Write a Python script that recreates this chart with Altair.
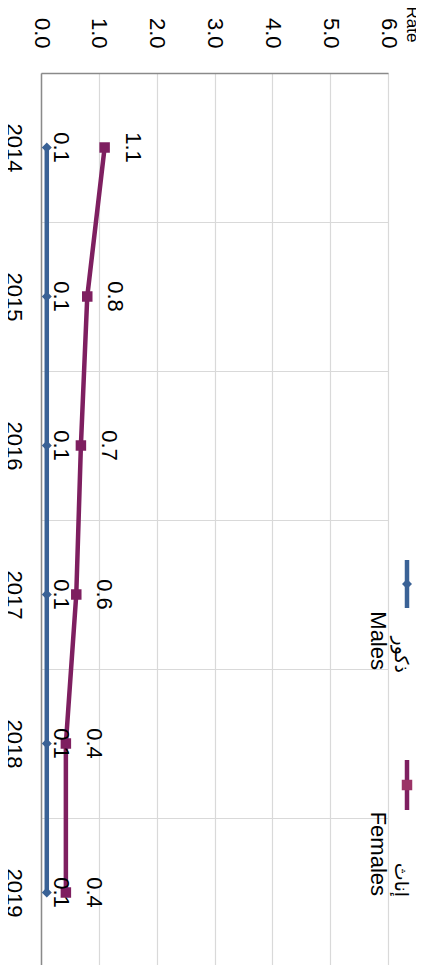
import altair as alt
import pandas as pd

years = ["2014", "2015", "2016", "2017", "2018", "2019"]
males = [0.1, 0.1, 0.1, 0.1, 0.1, 0.1]
females = [1.1, 0.8, 0.69, 0.61, 0.43, 0.43]
series_en = ["Males", "Females"]
series_ar = ["ذكور", "إناث"]
line_colors = ["#3A6296", "#7E1F60"]
marker_colors = ["#3A6296", "#9B3366"]
x_ticks = [0, 1, 2, 3, 4, 5, 6]

rows = []
for i, y in enumerate(years):
    rows.append({"year": y, "rate": males[i], "series": series_en[0]})
    rows.append({"year": y, "rate": females[i], "series": series_en[1]})
df = pd.DataFrame(rows)
leg = pd.DataFrame({"en": series_en, "ar": series_ar})

FONT = "Liberation Sans"
FS = 22
W, H = 347, 894

X = alt.X(
    "rate:Q",
    scale=alt.Scale(domain=[0, 6], nice=False, zero=True),
    axis=alt.Axis(
        orient="top", values=x_ticks, format=".1f",
        labelAngle=90, labelAlign="right", labelBaseline="middle",
        labelPadding=25, labelFontSize=FS, labelColor="black", labelFont=FONT,
        ticks=False, tickSize=0, domainColor="#8a8a8a", domainWidth=1.5,
        grid=True, gridColor="#d9d9d9", gridWidth=1.2,
        title="Rate", titleAngle=90, titleAlign="right", titleBaseline="middle",
        titleX=370, titleY=-31, titleFontSize=17, titleFontWeight="normal",
        titleFont=FONT, titleColor="black",
    ),
)
Y = alt.Y(
    "year:O", sort=years,
    scale=alt.Scale(type="band", paddingInner=0, paddingOuter=0),
    bandPosition=0.5,
    axis=alt.Axis(
        orient="left", labelAngle=90, labelAlign="center", labelBaseline="top",
        labelPadding=18, labelFontSize=FS, labelColor="black", labelFont=FONT,
        ticks=False, tickSize=0, tickBand="extent", domainColor="#8a8a8a", domainWidth=1.5,
        grid=True, gridColor="#d9d9d9", gridWidth=1.2, title=None,
    ),
)
color = alt.Color("series:N", scale=alt.Scale(domain=series_en, range=line_colors), legend=None)
mcolor = alt.Color("series:N", scale=alt.Scale(domain=series_en, range=marker_colors), legend=None)

base = alt.Chart(df)
lines = base.mark_line(strokeWidth=4.5).encode(x=X, y=Y, color=color, order=alt.Order("year:O"))
pts = base.mark_point(filled=True, opacity=1).encode(
    x=X, y=Y, color=mcolor,
    shape=alt.Shape("series:N", scale=alt.Scale(domain=series_en, range=["diamond", "square"]), legend=None),
    size=alt.Size("series:N", scale=alt.Scale(domain=series_en, range=[100, 110]), legend=None),
)
lab_m = base.transform_filter(alt.datum.series == series_en[0]).mark_text(
    angle=90, align="center", baseline="middle", dy=-14, fontSize=FS, font=FONT, color="black"
).encode(x=X, y=Y, text=alt.Text("rate:Q", format=".1f"))
lab_f = base.transform_filter(alt.datum.series == series_en[1]).mark_text(
    angle=90, align="center", baseline="middle", dy=-28, fontSize=FS, font=FONT, color="black"
).encode(x=X, y=Y, text=alt.Text("rate:Q", format=".1f"))

# manual rotated legend
legend_layers = []
specs = [
    (series_en[0], 487, 535, 511, 597, 600, "diamond", 100, 0),
    (series_en[1], 687, 737, 712, 823, 824, "square", 110, 1),
]
for name, y1, y2, ym, yt, ya, shp, sz, idx in specs:
    lb = alt.Chart(leg).transform_filter(alt.datum.en == name)
    legend_layers.append(lb.mark_rule(strokeWidth=4.5, color=line_colors[idx]).encode(
        x=alt.value(366), y=alt.value(y1), y2=alt.value(y2)))
    legend_layers.append(lb.mark_point(filled=True, opacity=1, shape=shp, size=sz, color=marker_colors[idx]).encode(
        x=alt.value(366), y=alt.value(ym)))
    legend_layers.append(lb.mark_text(angle=90, align="right", baseline="middle", fontSize=FS, font=FONT, color="black").encode(
        x=alt.value(337), y=alt.value(yt), text="en:N"))
    legend_layers.append(lb.mark_text(angle=90, align="right", baseline="middle", fontSize=19, font="DejaVu Sans", color="black").encode(
        x=alt.value(360), y=alt.value(ya), text="ar:N"))

chart = alt.layer(lines, pts, lab_m, lab_f, *legend_layers).properties(
    width=W, height=H,
    autosize=alt.AutoSizeParams(type="none"),
    padding={"left": 33, "top": 65, "right": 28, "bottom": 0},
).configure_view(strokeWidth=0)

chart.save("out.html", embed_options={"renderer": "svg", "actions": False})
